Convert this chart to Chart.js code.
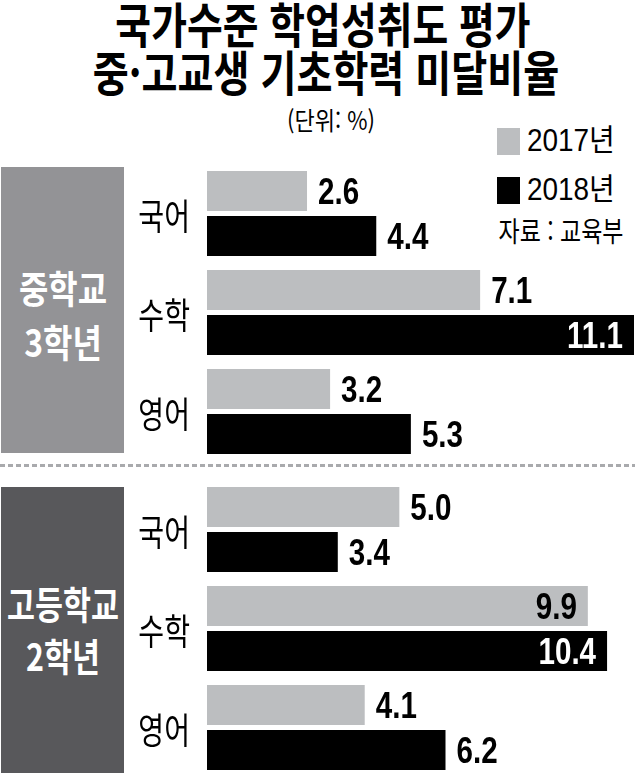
<!DOCTYPE html>
<html lang="ko">
<head>
<meta charset="utf-8">
<script src="https://cdn.jsdelivr.net/npm/chart.js@4.4.1/dist/chart.umd.min.js"></script>
<style>
  html, body { margin:0; padding:0; background:#fff; overflow:hidden; }
  #wrap { position:relative; width:635px; height:773px; overflow:hidden; background:#fff; font-family:"Noto Sans CJK KR", sans-serif; }
  .t { position:absolute; white-space:nowrap; transform-origin:center center; }
  .c { transform:translateX(-50%) scaleX(var(--sx,1)); }
  .l { transform:scaleX(var(--sx,1)); transform-origin:left center; }
  .box { position:absolute; left:1px; width:123px; }
  .dash { position:absolute; left:0; width:635px; height:3px; top:464px;
          background:repeating-linear-gradient(to right, #a9aaad 0 5px, transparent 5px 8px); }
  canvas { position:absolute; left:0; }
  .sq { position:absolute; width:23px; height:27px; left:497px; }
</style>
</head>
<body>
<div id="wrap">
  <div class="t c" id="title1" style="left:323px; top:-2px; font-size:48px; line-height:48px; font-weight:700; --sx:0.81;"></div>
  <div class="t c" id="title2" style="left:326px; top:46px; font-size:48px; line-height:48px; font-weight:700; --sx:0.815;"></div>
  <div class="t c" id="unit" style="left:331px; top:104px; font-size:25px; line-height:30px; --sx:0.88;"></div>

  <div class="sq" id="sq17" style="top:128px; background:#bcbec0;"></div>
  <div class="sq" id="sq18" style="top:177px; background:#000;"></div>
  <div class="t l" id="leg17" style="left:527px; top:124px; font-size:31px; line-height:34px; font-family:'Liberation Sans','Noto Sans CJK KR'; --sx:0.9;"></div>
  <div class="t l" id="leg18" style="left:527px; top:173px; font-size:31px; line-height:34px; font-family:'Liberation Sans','Noto Sans CJK KR'; --sx:0.9;"></div>
  <div class="t c" id="source" style="left:561px; top:214px; font-size:28px; line-height:32px; --sx:0.82;"></div>

  <div class="box" style="top:167px; height:286px; background:#939396;"></div>
  <div class="box" style="top:487px; height:286px; background:#58585b;"></div>
  <div class="t c" id="g1a" style="left:62.5px; top:265px; font-size:38px; line-height:44px; font-weight:700; color:#fff; --sx:0.84;"></div>
  <div class="t c" id="g1b" style="left:62.5px; top:319px; font-size:38px; line-height:44px; font-weight:700; color:#fff; --sx:0.84;"></div>
  <div class="t c" id="g2a" style="left:62.5px; top:581px; font-size:38px; line-height:44px; font-weight:700; color:#fff; --sx:0.8;"></div>
  <div class="t c" id="g2b" style="left:62.5px; top:633px; font-size:38px; line-height:44px; font-weight:700; color:#fff; --sx:0.8;"></div>

  <div class="dash"></div>

  <canvas id="c1" width="635" height="320" style="top:150px;"></canvas>
  <canvas id="c2" width="635" height="320" style="top:466px;"></canvas>
</div>
<script>
// ---- data ----
const titleLines = ['국가수준 학업성취도 평가', '중·고교생 기초학력 미달비율'];
const unitLabel = '(단위: %)';
const sourceLabel = '자료 : 교육부';
const subjects = ['국어', '수학', '영어'];
const seriesLabels = ['2017년', '2018년'];
const groupLabels = [['중학교', '3학년'], ['고등학교', '2학년']];
const middle2017 = [2.6, 7.1, 3.2];
const middle2018 = [4.4, 11.1, 5.3];
const high2017 = [5.0, 9.9, 4.1];
const high2018 = [3.4, 10.4, 6.2];
const axisMax = 11.1;

// ---- static text ----
document.getElementById('title1').textContent = titleLines[0];
document.getElementById('title2').textContent = titleLines[1];
document.getElementById('unit').textContent = unitLabel;
document.getElementById('source').textContent = sourceLabel;
document.getElementById('leg17').textContent = seriesLabels[0];
document.getElementById('leg18').textContent = seriesLabels[1];
document.getElementById('g1a').textContent = groupLabels[0][0];
document.getElementById('g1b').textContent = groupLabels[0][1];
document.getElementById('g2a').textContent = groupLabels[1][0];
document.getElementById('g2b').textContent = groupLabels[1][1];

const GRAY = '#bcbec0';
const BLACK = '#000000';

const labelPlugin = {
  id: 'labelPlugin',
  afterDatasetsDraw(chart) {
    const ctx = chart.ctx;
    const yScale = chart.scales.y;
    // subject labels
    ctx.save();
    ctx.fillStyle = '#000';
    ctx.font = '400 36px "Noto Sans CJK KR"';
    ctx.textAlign = 'right';
    ctx.textBaseline = 'middle';
    chart.data.labels.forEach((lab, i) => {
      const y = yScale.getPixelForValue(i);
      ctx.save();
      ctx.translate(190, y + 3);
      ctx.scale(0.78, 1);
      ctx.fillText(lab, 0, 0);
      ctx.restore();
    });
    ctx.restore();
    // value labels
    const sx = 0.8, size = 37;
    ctx.save();
    ctx.font = 'bold ' + size + 'px "Liberation Sans"';
    ctx.textBaseline = 'alphabetic';
    chart.data.datasets.forEach((ds, di) => {
      const meta = chart.getDatasetMeta(di);
      meta.data.forEach((bar, i) => {
        const txt = ds.data[i].toFixed(1);
        const w = ctx.measureText(txt).width * sx;
        const end = bar.x;
        const yBase = bar.y + size * 0.716 / 2;
        let x, color;
        if (end + 10 + w > chart.width - 2) {
          x = end - 11 - w;
          color = ds.backgroundColor === BLACK ? '#fff' : '#000';
        } else {
          x = end + 11;
          color = '#000';
        }
        ctx.save();
        ctx.fillStyle = color;
        ctx.translate(x, yBase);
        ctx.scale(sx, 1);
        ctx.textAlign = 'left';
        ctx.fillText(txt, 0, 0);
        ctx.restore();
      });
    });
    ctx.restore();
  }
};

function makeChart(id, d17, d18) {
  return new Chart(document.getElementById(id), {
    type: 'bar',
    data: {
      labels: subjects,
      datasets: [
        { label: seriesLabels[0], data: d17, backgroundColor: GRAY },
        { label: seriesLabels[1], data: d18, backgroundColor: BLACK }
      ]
    },
    options: {
      indexAxis: 'y',
      responsive: false,
      animation: false,
      events: [],
      layout: { padding: { left: 207, right: 1, top: 14, bottom: 9 } },
      datasets: { bar: { categoryPercentage: 0.909, barPercentage: 0.889, borderWidth: 0 } },
      plugins: { legend: { display: false }, tooltip: { enabled: false } },
      scales: {
        x: { display: false, min: 0, max: axisMax },
        y: { display: false }
      }
    },
    plugins: [labelPlugin]
  });
}

makeChart('c1', middle2017, middle2018);
makeChart('c2', high2017, high2018);
</script>
</body>
</html>
